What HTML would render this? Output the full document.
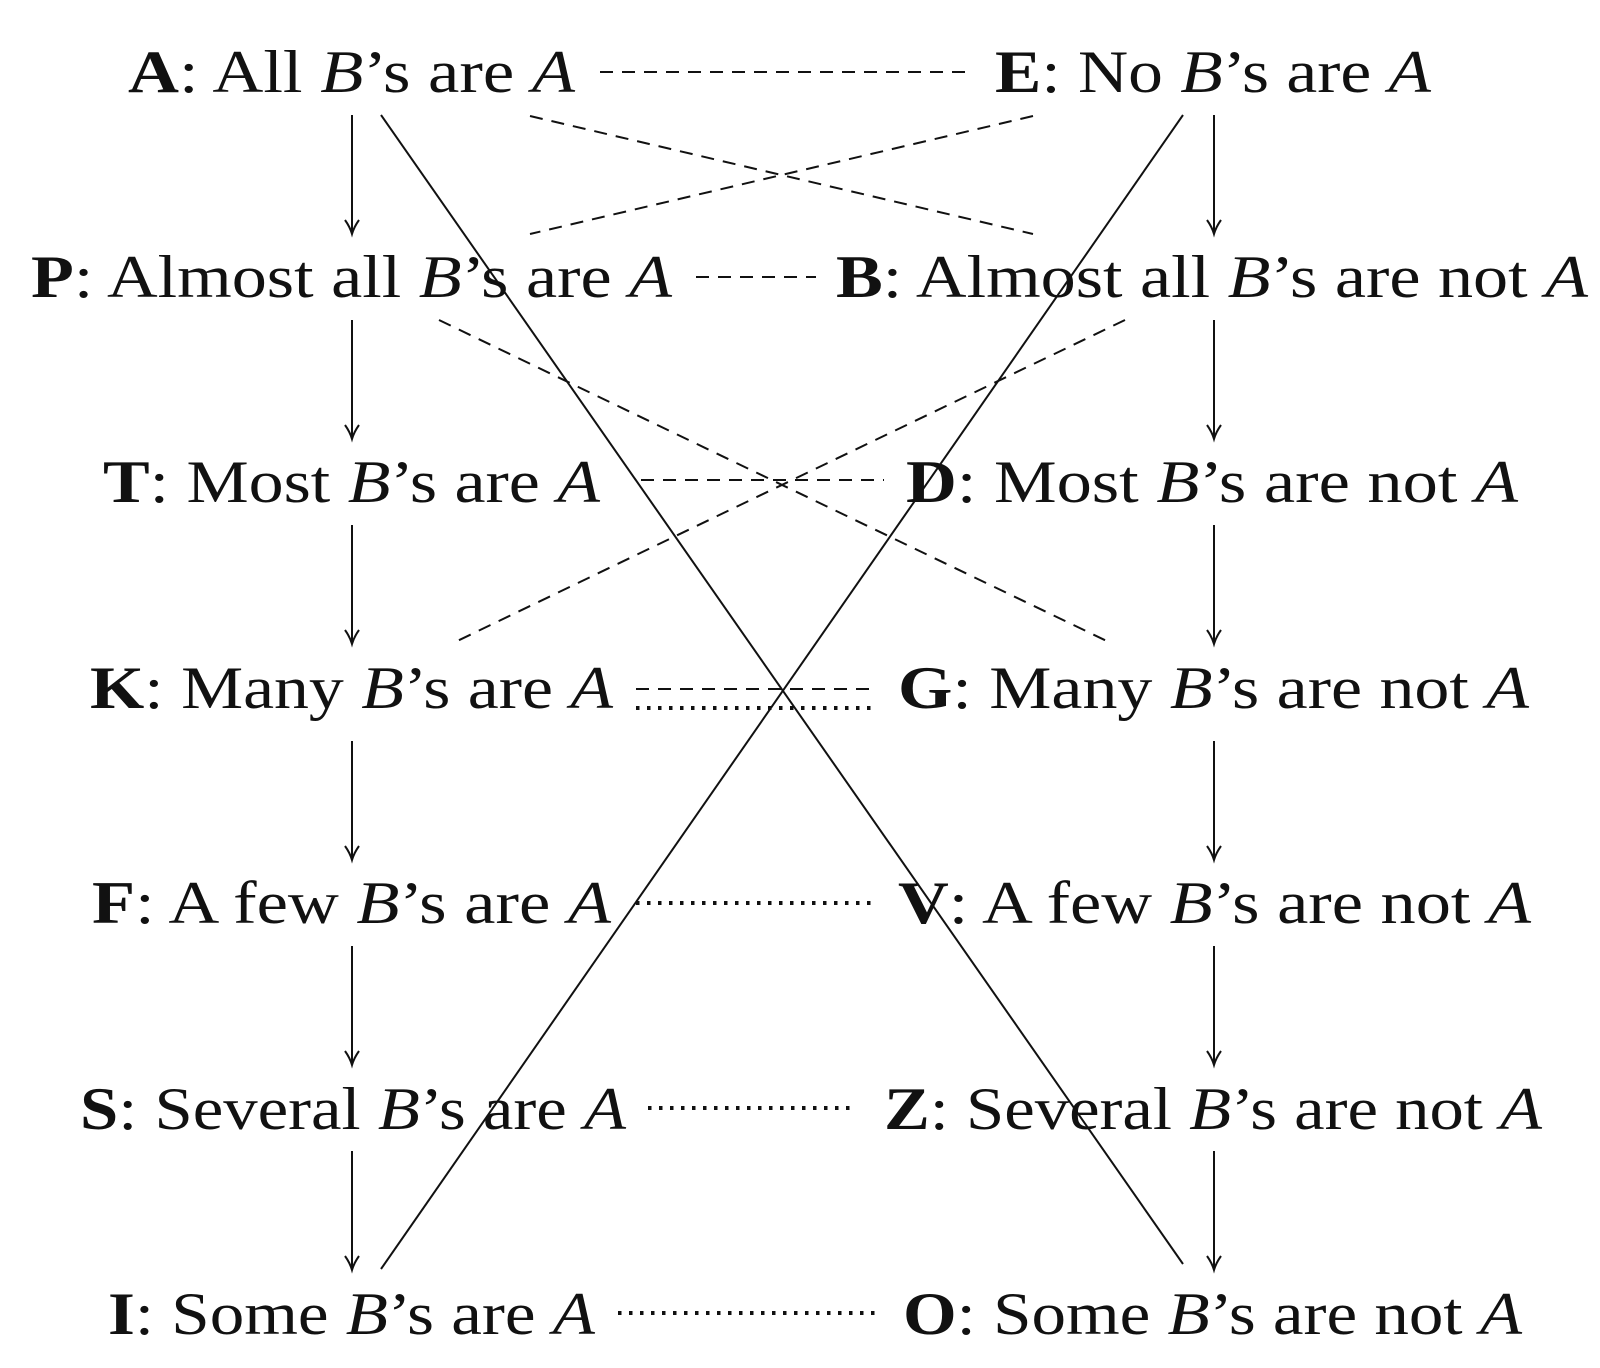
<!DOCTYPE html>
<html><head><meta charset="utf-8"><style>
html,body{margin:0;padding:0;background:#fff;}
svg{display:block}
text{font-family:"Liberation Serif",serif;font-size:60px;fill:#111;}
.b{font-weight:bold}
.i{font-style:italic}
</style></head><body>
<svg width="1600" height="1368" viewBox="0 0 1600 1368" xmlns="http://www.w3.org/2000/svg">
<g>
<text x="128" y="92" textLength="447" lengthAdjust="spacingAndGlyphs"><tspan class="b">A</tspan>: All <tspan class="i">B</tspan>’s are <tspan class="i">A</tspan></text>
<text x="995" y="92" textLength="436" lengthAdjust="spacingAndGlyphs"><tspan class="b">E</tspan>: No <tspan class="i">B</tspan>’s are <tspan class="i">A</tspan></text>
<text x="31" y="297" textLength="641" lengthAdjust="spacingAndGlyphs"><tspan class="b">P</tspan>: Almost all <tspan class="i">B</tspan>’s are <tspan class="i">A</tspan></text>
<text x="836" y="297" textLength="752" lengthAdjust="spacingAndGlyphs"><tspan class="b">B</tspan>: Almost all <tspan class="i">B</tspan>’s are not <tspan class="i">A</tspan></text>
<text x="103" y="502" textLength="497" lengthAdjust="spacingAndGlyphs"><tspan class="b">T</tspan>: Most <tspan class="i">B</tspan>’s are <tspan class="i">A</tspan></text>
<text x="906" y="502" textLength="612" lengthAdjust="spacingAndGlyphs"><tspan class="b">D</tspan>: Most <tspan class="i">B</tspan>’s are not <tspan class="i">A</tspan></text>
<text x="90" y="708" textLength="523" lengthAdjust="spacingAndGlyphs"><tspan class="b">K</tspan>: Many <tspan class="i">B</tspan>’s are <tspan class="i">A</tspan></text>
<text x="898" y="708" textLength="631" lengthAdjust="spacingAndGlyphs"><tspan class="b">G</tspan>: Many <tspan class="i">B</tspan>’s are not <tspan class="i">A</tspan></text>
<text x="92" y="923" textLength="519" lengthAdjust="spacingAndGlyphs"><tspan class="b">F</tspan>: A few <tspan class="i">B</tspan>’s are <tspan class="i">A</tspan></text>
<text x="898" y="923" textLength="633" lengthAdjust="spacingAndGlyphs"><tspan class="b">V</tspan>: A few <tspan class="i">B</tspan>’s are not <tspan class="i">A</tspan></text>
<text x="80" y="1129" textLength="546" lengthAdjust="spacingAndGlyphs"><tspan class="b">S</tspan>: Several <tspan class="i">B</tspan>’s are <tspan class="i">A</tspan></text>
<text x="884" y="1129" textLength="658" lengthAdjust="spacingAndGlyphs"><tspan class="b">Z</tspan>: Several <tspan class="i">B</tspan>’s are not <tspan class="i">A</tspan></text>
<text x="108" y="1334" textLength="487" lengthAdjust="spacingAndGlyphs"><tspan class="b">I</tspan>: Some <tspan class="i">B</tspan>’s are <tspan class="i">A</tspan></text>
<text x="903" y="1334" textLength="619" lengthAdjust="spacingAndGlyphs"><tspan class="b">O</tspan>: Some <tspan class="i">B</tspan>’s are not <tspan class="i">A</tspan></text>
</g>
<g stroke="#111" stroke-width="2" fill="none">
<path d="M352,115V234 M1214,115V234 M352,320V439 M1214,320V439 M352,525V644 M1214,525V644 M352,741V860 M1214,741V860 M352,946V1065 M1214,946V1065 M352,1151V1270 M1214,1151V1270"/>
<path d="M345,220 Q350,227 352,234 Q354,227 359,220 M1207,220 Q1212,227 1214,234 Q1216,227 1221,220
M345,425 Q350,432 352,439 Q354,432 359,425 M1207,425 Q1212,432 1214,439 Q1216,432 1221,425
M345,630 Q350,637 352,644 Q354,637 359,630 M1207,630 Q1212,637 1214,644 Q1216,637 1221,630
M345,846 Q350,853 352,860 Q354,853 359,846 M1207,846 Q1212,853 1214,860 Q1216,853 1221,846
M345,1051 Q350,1058 352,1065 Q354,1058 359,1051 M1207,1051 Q1212,1058 1214,1065 Q1216,1058 1221,1051
M345,1256 Q350,1263 352,1270 Q354,1263 359,1256 M1207,1256 Q1212,1263 1214,1270 Q1216,1263 1221,1256"/>
<line x1="381" y1="115" x2="1183" y2="1264"/>
<line x1="1183" y1="115" x2="381" y2="1269"/>
</g>
<g stroke="#111" stroke-width="2" fill="none" stroke-dasharray="13 9">
<line x1="600" y1="72" x2="970" y2="72"/>
<line x1="530" y1="116" x2="1033" y2="234"/>
<line x1="1033" y1="116" x2="530" y2="234"/>
<line x1="696" y1="277" x2="816" y2="277"/>
<line x1="439" y1="320" x2="1113" y2="644"/>
<line x1="1125" y1="320" x2="451" y2="644"/>
<line x1="641" y1="480" x2="884" y2="480"/>
<line x1="636" y1="689" x2="872" y2="689"/>
</g>
<g stroke="#111" stroke-width="4" fill="none" stroke-dasharray="3.5 7.5">
<line x1="636" y1="708" x2="872" y2="708"/>
<line x1="636" y1="903" x2="872" y2="903"/>
<line x1="648" y1="1108" x2="857" y2="1108"/>
<line x1="618" y1="1313" x2="877" y2="1313"/>
</g>
</svg>
</body></html>
